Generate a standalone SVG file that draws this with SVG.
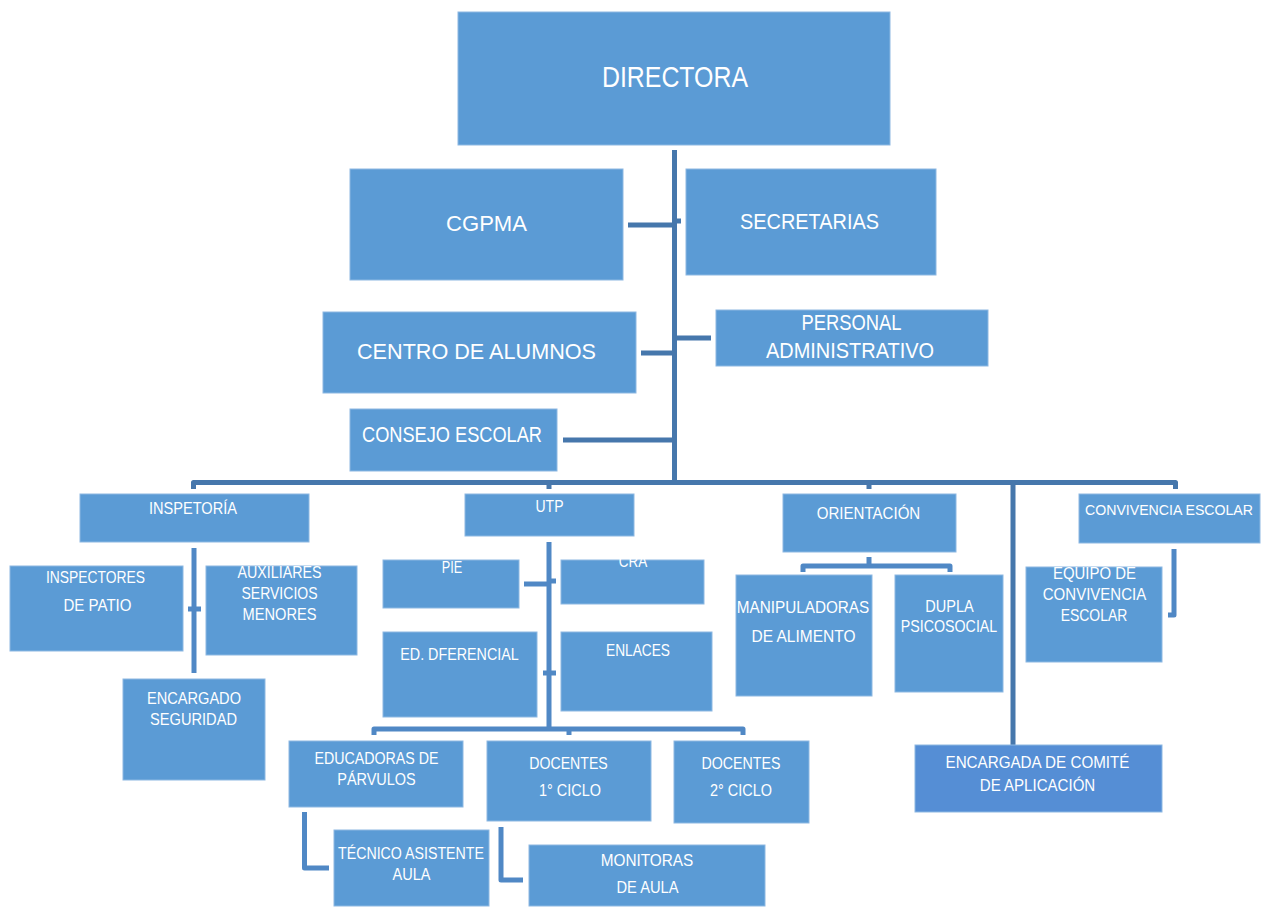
<svg xmlns="http://www.w3.org/2000/svg" width="1261" height="907" viewBox="0 0 1261 907">
<style>
.box{fill:#5B9BD5;stroke:#8DB8E2;stroke-width:1}
.box2{fill:#558ED5;stroke:#8DB8E2;stroke-width:1}
text{fill:#FFFFFF;font-family:"Liberation Sans",Arial,sans-serif;text-anchor:middle}
.t0{font-size:30px}
.t1{font-size:22px}
.t2{font-size:16.5px}
.c1{fill:none;stroke:#4677AC;stroke-width:5;stroke-linejoin:round}
.c2{fill:none;stroke:#5088C5;stroke-width:5;stroke-linejoin:round}
</style>
<rect width="1261" height="907" fill="#FFFFFF"/>
<g id="connectors">
<path class="c1" d="M674.5 150 V482"/>
<path class="c1" d="M628 225 H674"/>
<path class="c1" stroke-width="4" d="M674 221 H681"/>
<path class="c1" d="M641 353 H674"/>
<path class="c1" d="M674 338 H711"/>
<path class="c1" d="M563 440 H674"/>
<path class="c1" d="M193.5 489 V482.5 H1175.5 V489"/>
<path class="c1" d="M549 482 V489"/>
<path class="c1" d="M869 482 V489"/>
<path class="c1" stroke="#4E7FB8" d="M1013 482 V745"/>
<path class="c2" stroke-width="6" d="M194 548 V673"/>
<path class="c2" d="M188 609 H201"/>
<path class="c2" stroke-width="6" d="M549 542 V729"/>
<path class="c2" d="M524 584 H549"/>
<path class="c2" stroke-width="4" d="M549 581 H556"/>
<path class="c2" d="M543 673 H556"/>
<path class="c2" d="M374 735 V729 H743 V735"/>
<path class="c2" d="M569 729 V735"/>
<path class="c2" d="M803 572 V566 H950 V572"/>
<path class="c2" d="M869 557 V566"/>
<path class="c2" d="M1174 549 V615 H1168"/>
<path class="c2" d="M304.5 812 V868 H329"/>
<path class="c2" d="M501 827 V880 H523"/>
</g>
<g id="directora"><rect class="box" x="458" y="12" width="432" height="133"/><text class="t0" x="675" y="87" textLength="146" lengthAdjust="spacingAndGlyphs">DIRECTORA</text></g>
<g id="cgpma"><rect class="box" x="350" y="169" width="273" height="111"/><text class="t1" x="486.5" y="231" textLength="81" lengthAdjust="spacingAndGlyphs">CGPMA</text></g>
<g id="secretarias"><rect class="box" x="686" y="169" width="250" height="106"/><text class="t1" x="809.5" y="229" textLength="139" lengthAdjust="spacingAndGlyphs">SECRETARIAS</text></g>
<g id="centro-alumnos"><rect class="box" x="323" y="312" width="313" height="81"/><text class="t1" x="476.5" y="359" textLength="239" lengthAdjust="spacingAndGlyphs">CENTRO DE ALUMNOS</text></g>
<g id="personal-administrativo"><rect class="box" x="716" y="310" width="272" height="56"/><text class="t1" x="851.5" y="330" textLength="100" lengthAdjust="spacingAndGlyphs">PERSONAL</text><text class="t1" x="850" y="358" textLength="168" lengthAdjust="spacingAndGlyphs">ADMINISTRATIVO</text></g>
<g id="consejo-escolar"><rect class="box" x="350" y="409" width="207" height="62"/><text class="t1" x="452" y="442" textLength="180" lengthAdjust="spacingAndGlyphs">CONSEJO ESCOLAR</text></g>
<g id="inspetoria"><rect class="box" x="80" y="494" width="229" height="48"/><text class="t2" x="193" y="514" textLength="88" lengthAdjust="spacingAndGlyphs">INSPETORÍA</text></g>
<g id="utp"><rect class="box" x="465" y="494" width="169" height="42"/><text class="t2" x="549.5" y="511.5" textLength="28" lengthAdjust="spacingAndGlyphs">UTP</text></g>
<g id="orientacion"><rect class="box" x="783" y="494" width="173" height="58"/><text class="t2" x="868.5" y="519" textLength="103.5" lengthAdjust="spacingAndGlyphs">ORIENTACIÓN</text></g>
<g id="convivencia-escolar"><rect class="box" x="1079" y="494" width="181" height="49"/><text x="1169" y="515" font-size="14.5" textLength="168" lengthAdjust="spacingAndGlyphs">CONVIVENCIA ESCOLAR</text></g>
<g id="inspectores-patio"><rect class="box" x="10" y="566" width="173" height="85"/><text class="t2" x="95.5" y="583" textLength="99" lengthAdjust="spacingAndGlyphs">INSPECTORES</text><text class="t2" x="97.5" y="611" textLength="68" lengthAdjust="spacingAndGlyphs">DE PATIO</text></g>
<g id="auxiliares"><rect class="box" x="206" y="566" width="151" height="89"/><text class="t2" x="279.5" y="578" textLength="84" lengthAdjust="spacingAndGlyphs">AUXILIARES</text><text class="t2" x="279.5" y="599" textLength="76" lengthAdjust="spacingAndGlyphs">SERVICIOS</text><text class="t2" x="279.5" y="620" textLength="74" lengthAdjust="spacingAndGlyphs">MENORES</text></g>
<g id="encargado-seguridad"><rect class="box" x="123" y="679" width="142" height="101"/><text class="t2" x="194" y="704" textLength="94" lengthAdjust="spacingAndGlyphs">ENCARGADO</text><text class="t2" x="193.5" y="725" textLength="87" lengthAdjust="spacingAndGlyphs">SEGURIDAD</text></g>
<g id="pie"><rect class="box" x="383" y="560" width="136" height="48"/><text class="t2" x="452" y="572.5" textLength="20.5" lengthAdjust="spacingAndGlyphs">PIE</text></g>
<g id="cra"><rect class="box" x="561" y="560" width="143" height="44"/><text class="t2" x="633" y="567" textLength="28.5" lengthAdjust="spacingAndGlyphs">CRA</text></g>
<g id="ed-diferencial"><rect class="box" x="383" y="632" width="154" height="85"/><text class="t2" x="459.5" y="660" textLength="118.5" lengthAdjust="spacingAndGlyphs">ED. DFERENCIAL</text></g>
<g id="enlaces"><rect class="box" x="561" y="632" width="151" height="79"/><text class="t2" x="638" y="656" textLength="64" lengthAdjust="spacingAndGlyphs">ENLACES</text></g>
<g id="manipuladoras"><rect class="box" x="736" y="575" width="136" height="121"/><text class="t2" x="803" y="613" textLength="132.5" lengthAdjust="spacingAndGlyphs">MANIPULADORAS</text><text class="t2" x="803.5" y="642" textLength="104" lengthAdjust="spacingAndGlyphs">DE ALIMENTO</text></g>
<g id="dupla-psicosocial"><rect class="box" x="895" y="575" width="108" height="117"/><text class="t2" x="949.5" y="612" textLength="48.5" lengthAdjust="spacingAndGlyphs">DUPLA</text><text class="t2" x="949" y="632" textLength="96.5" lengthAdjust="spacingAndGlyphs">PSICOSOCIAL</text></g>
<g id="equipo-convivencia"><rect class="box" x="1026" y="567" width="136" height="95"/><text class="t2" x="1094.5" y="579" textLength="83" lengthAdjust="spacingAndGlyphs">EQUIPO DE</text><text class="t2" x="1094.5" y="600" textLength="103.5" lengthAdjust="spacingAndGlyphs">CONVIVENCIA</text><text class="t2" x="1094" y="621" textLength="66.5" lengthAdjust="spacingAndGlyphs">ESCOLAR</text></g>
<g id="encargada-comite"><rect class="box2" x="915" y="745" width="247" height="67"/><text class="t2" x="1037.5" y="768" textLength="184" lengthAdjust="spacingAndGlyphs">ENCARGADA DE COMITÉ</text><text class="t2" x="1037.5" y="791" textLength="115.5" lengthAdjust="spacingAndGlyphs">DE APLICACIÓN</text></g>
<g id="educadoras-parvulos"><rect class="box" x="289" y="741" width="174" height="66"/><text class="t2" x="376.5" y="764" textLength="124" lengthAdjust="spacingAndGlyphs">EDUCADORAS DE</text><text class="t2" x="376.5" y="784.5" textLength="78.5" lengthAdjust="spacingAndGlyphs">PÁRVULOS</text></g>
<g id="docentes-1-ciclo"><rect class="box" x="487" y="741" width="164" height="80"/><text class="t2" x="568.5" y="769" textLength="78.5" lengthAdjust="spacingAndGlyphs">DOCENTES</text><text class="t2" x="570" y="796" textLength="62" lengthAdjust="spacingAndGlyphs">1° CICLO</text></g>
<g id="docentes-2-ciclo"><rect class="box" x="674" y="741" width="135" height="82"/><text class="t2" x="741" y="769" textLength="79" lengthAdjust="spacingAndGlyphs">DOCENTES</text><text class="t2" x="741" y="796" textLength="62" lengthAdjust="spacingAndGlyphs">2° CICLO</text></g>
<g id="tecnico-asistente"><rect class="box" x="334" y="830" width="155" height="76"/><text class="t2" x="411" y="858.5" textLength="146" lengthAdjust="spacingAndGlyphs">TÉCNICO ASISTENTE</text><text class="t2" x="411.5" y="879.5" textLength="38" lengthAdjust="spacingAndGlyphs">AULA</text></g>
<g id="monitoras-aula"><rect class="box" x="529" y="845" width="236" height="61"/><text class="t2" x="647" y="866" textLength="92.5" lengthAdjust="spacingAndGlyphs">MONITORAS</text><text class="t2" x="647.5" y="892.5" textLength="62" lengthAdjust="spacingAndGlyphs">DE AULA</text></g>
</svg>
